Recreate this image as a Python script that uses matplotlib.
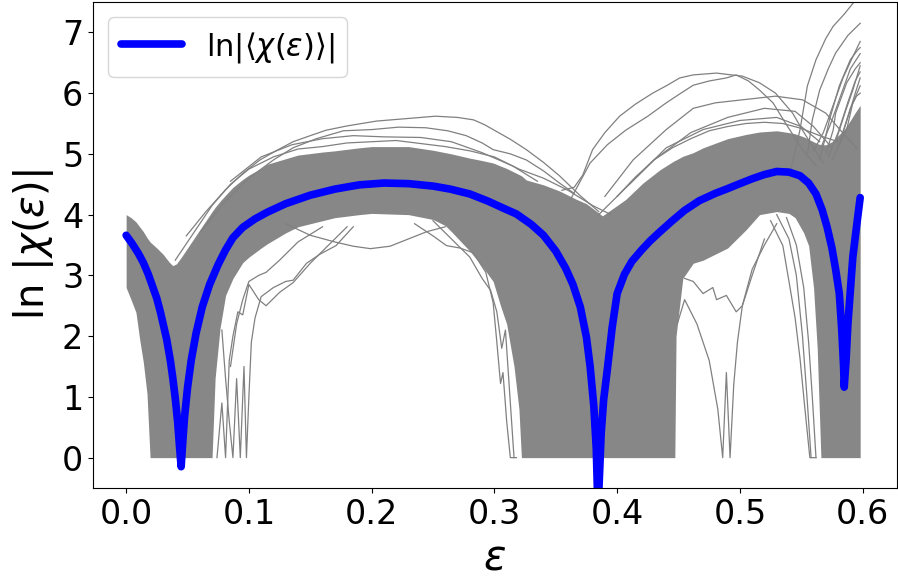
import numpy as np
import matplotlib
matplotlib.use("Agg")
import matplotlib.pyplot as plt

# mean curve ln|<chi(eps)>|
mean_x = [0.000, 0.005, 0.010, 0.014, 0.018, 0.021, 0.025, 0.028, 0.033, 0.036, 0.038, 0.040,
          0.042, 0.0435, 0.0448, 0.046, 0.0475, 0.050, 0.053, 0.057, 0.062, 0.068, 0.075, 0.081,
          0.087, 0.095, 0.105, 0.115, 0.130, 0.150, 0.170, 0.190, 0.210, 0.230, 0.250, 0.264,
          0.280, 0.295, 0.308, 0.318, 0.330, 0.340, 0.350, 0.358, 0.364, 0.370, 0.375, 0.378,
          0.381, 0.383, 0.384, 0.385, 0.387, 0.389, 0.392, 0.396, 0.400, 0.406, 0.412, 0.420,
          0.427, 0.435, 0.445, 0.455, 0.467, 0.480, 0.489, 0.500, 0.510, 0.520, 0.530, 0.540,
          0.549, 0.556, 0.562, 0.567, 0.571, 0.575, 0.578, 0.581, 0.583, 0.5845, 0.585, 0.5865,
          0.588, 0.590, 0.592, 0.595, 0.598]
mean_y = [3.66, 3.52, 3.36, 3.21, 3.02, 2.85, 2.62, 2.39, 1.95, 1.60, 1.31, 0.98,
          0.58, 0.18, -0.15, 0.22, 0.65, 1.15, 1.60, 2.05, 2.48, 2.85, 3.18, 3.42,
          3.62, 3.79, 3.93, 4.04, 4.18, 4.32, 4.42, 4.49, 4.52, 4.51, 4.47, 4.42,
          4.34, 4.22, 4.10, 4.01, 3.84, 3.66, 3.40, 3.12, 2.85, 2.48, 1.98, 1.50,
          0.85, 0.15, -0.60, -0.60, 0.40, 0.95, 1.45, 2.15, 2.70, 3.02, 3.23, 3.42,
          3.57, 3.72, 3.90, 4.07, 4.23, 4.35, 4.42, 4.51, 4.59, 4.66, 4.71, 4.70,
          4.64, 4.52, 4.34, 4.08, 3.80, 3.45, 3.10, 2.70, 2.10, 1.50, 1.16, 1.60,
          2.20, 2.75, 3.30, 3.80, 4.28]

# dense band of the individual realisations (upper / lower edge)
band_x = [0.000, 0.004, 0.008, 0.011, 0.014, 0.017, 0.0195, 0.025, 0.030, 0.035, 0.038, 0.041,
          0.045, 0.050, 0.055, 0.060, 0.065, 0.070, 0.0725, 0.0765, 0.081, 0.087, 0.095, 0.100,
          0.110, 0.115, 0.130, 0.140, 0.160, 0.170, 0.190, 0.200, 0.230, 0.250, 0.260, 0.265,
          0.280, 0.290, 0.299, 0.305, 0.310, 0.316, 0.320, 0.322, 0.326, 0.340, 0.353, 0.367,
          0.375, 0.388, 0.400, 0.407, 0.421, 0.435, 0.446, 0.447, 0.448, 0.4535, 0.462, 0.470,
          0.490, 0.505, 0.516, 0.530, 0.540, 0.545, 0.552, 0.556, 0.560, 0.563, 0.566, 0.570,
          0.575, 0.580, 0.585, 0.590, 0.594, 0.598]
band_hi = [4.00, 3.95, 3.88, 3.80, 3.72, 3.62, 3.55, 3.45, 3.35, 3.22, 3.16, 3.19,
           3.30, 3.45, 3.60, 3.75, 3.90, 4.05, 4.12, 4.22, 4.32, 4.45, 4.58, 4.65,
           4.76, 4.83, 4.92, 4.98, 5.03, 5.05, 5.10, 5.12, 5.12, 5.06, 5.02, 5.00,
           4.93, 4.89, 4.85, 4.80, 4.76, 4.70, 4.66, 4.64, 4.57, 4.49, 4.39, 4.25,
           4.18, 3.98, 4.15, 4.25, 4.52, 4.74, 4.88, 4.89, 4.90, 4.96, 5.02, 5.10,
           5.25, 5.32, 5.36, 5.38, 5.35, 5.33, 5.28, 5.24, 5.20, 5.17, 5.15, 5.15,
           5.20, 5.30, 5.40, 5.55, 5.68, 5.80]
band_lo = [2.80, 2.60, 2.39, 1.95, 1.57, 1.05, 0.00, 0.00, 0.00, 0.00, 0.00, 0.00,
           0.00, 0.00, 0.00, 0.00, 0.00, 0.00, 1.31, 2.13, 2.67, 2.95, 3.21, 3.30,
           3.45, 3.52, 3.70, 3.80, 3.90, 3.95, 4.00, 4.02, 4.00, 3.92, 3.82, 3.72,
           3.40, 3.15, 2.90, 2.50, 2.20, 1.50, 0.80, 0.00, 0.00, 0.00, 0.00, 0.00,
           0.00, 0.00, 0.00, 0.00, 0.00, 0.00, 0.00, 0.00, 2.00, 2.95, 3.20, 3.25,
           3.45, 3.75, 4.00, 4.05, 4.02, 3.95, 3.70, 3.49, 2.80, 1.80, 0.00, 0.00,
           0.00, 0.00, 0.00, 0.00, 0.00, 0.00]

# single realisations sticking out of the band (first hump)
hump1_x = [
    [0.049, 0.065, 0.081, 0.095, 0.109, 0.122, 0.136, 0.150, 0.163, 0.180, 0.204, 0.228,
     0.252, 0.270, 0.283, 0.292, 0.299, 0.313, 0.326, 0.340, 0.353, 0.370, 0.385],
    [0.060, 0.080, 0.100, 0.120, 0.136, 0.155, 0.177, 0.200, 0.222, 0.244, 0.262, 0.277,
     0.290, 0.299, 0.313, 0.326, 0.340, 0.353, 0.365],
    [0.085, 0.110, 0.135, 0.160, 0.185, 0.210, 0.240, 0.265, 0.290, 0.315, 0.335],
    [0.040, 0.055, 0.070, 0.085, 0.100, 0.120, 0.140, 0.160, 0.180, 0.200, 0.220, 0.240,
     0.260, 0.280, 0.300, 0.320, 0.340, 0.360, 0.380, 0.395],
]
hump1_y = [
    [3.65, 4.05, 4.41, 4.68, 4.90, 5.05, 5.20, 5.30, 5.39, 5.46, 5.54, 5.58,
     5.62, 5.60, 5.56, 5.48, 5.40, 5.24, 5.07, 4.86, 4.64, 4.31, 4.05],
    [3.70, 4.20, 4.60, 4.90, 5.10, 5.25, 5.38, 5.40, 5.44, 5.43, 5.38, 5.30,
     5.18, 5.07, 5.00, 4.90, 4.72, 4.52, 4.35],
    [4.55, 4.95, 5.15, 5.25, 5.30, 5.28, 5.27, 5.20, 5.02, 4.80, 4.55],
    [3.25, 3.70, 4.15, 4.50, 4.75, 4.95, 5.08, 5.12, 5.18, 5.20, 5.22, 5.17,
     5.12, 5.05, 4.95, 4.75, 4.60, 4.40, 4.15, 4.00],
]

# second hump
hump2_x = [
    [0.355, 0.365, 0.372, 0.380, 0.390, 0.402, 0.415, 0.429, 0.440, 0.451, 0.462, 0.481,
     0.489, 0.502, 0.516, 0.529, 0.543, 0.551, 0.560, 0.568],
    [0.362, 0.370, 0.378, 0.392, 0.407, 0.425, 0.440, 0.452, 0.462, 0.475, 0.489, 0.497,
     0.507, 0.516, 0.527, 0.537, 0.551, 0.562],
    [0.390, 0.413, 0.440, 0.462, 0.480, 0.502, 0.529, 0.551, 0.570, 0.584, 0.595],
    [0.400, 0.430, 0.460, 0.490, 0.520, 0.545, 0.560, 0.575],
    [0.410, 0.440, 0.470, 0.500, 0.530, 0.550, 0.565],
    [0.385, 0.400, 0.415, 0.430, 0.445, 0.460, 0.475, 0.490, 0.505, 0.520, 0.535, 0.550,
     0.565, 0.580],
]
hump2_y = [
    [4.40, 4.45, 4.65, 5.07, 5.35, 5.62, 5.82, 6.00, 6.12, 6.25, 6.30, 6.33,
     6.31, 6.28, 6.17, 6.00, 5.67, 5.39, 5.10, 4.85],
    [4.25, 4.55, 4.85, 5.15, 5.39, 5.62, 5.84, 6.00, 6.13, 6.20, 6.25, 6.30,
     6.20, 6.05, 5.84, 5.51, 5.07, 4.80],
    [4.30, 4.90, 5.40, 5.75, 5.84, 5.89, 5.95, 5.89, 5.67, 5.34, 5.10],
    [4.30, 4.90, 5.35, 5.60, 5.75, 5.70, 5.45, 5.10],
    [4.50, 5.10, 5.40, 5.55, 5.60, 5.45, 5.20],
    [4.00, 4.30, 4.62, 4.90, 5.10, 5.25, 5.38, 5.45, 5.50, 5.52, 5.50, 5.42,
     5.30, 5.20],
]

# steep rise at the right edge
edge_x = [
    [0.540, 0.549, 0.555, 0.562, 0.570, 0.576, 0.585, 0.595],
    [0.555, 0.559, 0.565, 0.572, 0.578, 0.588, 0.598],
    [0.565, 0.570, 0.573, 0.581, 0.590, 0.596, 0.598],
    [0.570, 0.576, 0.578, 0.587, 0.594, 0.598],
    [0.575, 0.587, 0.592, 0.598],
    [0.572, 0.580, 0.588, 0.594, 0.598],
    [0.580, 0.588, 0.594, 0.598],
    [0.560, 0.568, 0.576, 0.584, 0.592, 0.598],
    [0.566, 0.574, 0.582, 0.590, 0.598],
    [0.578, 0.586, 0.592, 0.598],
    [0.583, 0.590, 0.595, 0.598],
]
edge_y = [
    [4.60, 5.40, 6.12, 6.55, 6.90, 7.10, 7.30, 7.55],
    [5.00, 5.56, 6.05, 6.40, 6.66, 6.95, 7.15],
    [4.90, 5.30, 5.56, 6.12, 6.55, 6.71, 6.75],
    [5.00, 5.39, 5.67, 6.17, 6.40, 6.50],
    [4.90, 5.40, 5.84, 6.12],
    [4.95, 5.35, 5.85, 6.20, 6.35],
    [5.10, 5.60, 6.00, 6.25],
    [5.05, 5.35, 5.80, 6.25, 6.60, 6.85],
    [5.10, 5.50, 5.95, 6.40, 6.65],
    [5.20, 5.70, 6.05, 6.45],
    [5.30, 5.75, 5.95, 6.00],
]

# realisations dropping into the gaps under the humps
gap_x = [
    [0.078, 0.081, 0.084, 0.087, 0.090, 0.093, 0.096, 0.098, 0.100, 0.102, 0.105, 0.110,
     0.120, 0.130, 0.136, 0.147, 0.158, 0.171, 0.185],
    [0.074, 0.078, 0.081, 0.084, 0.087, 0.091, 0.095, 0.100, 0.108, 0.114, 0.125, 0.136,
     0.150, 0.165, 0.180],
    [0.085, 0.090, 0.095, 0.100, 0.108, 0.114, 0.125, 0.140, 0.160],
    [0.130, 0.150, 0.170, 0.185, 0.199, 0.215, 0.230, 0.245, 0.260],
    [0.235, 0.250, 0.261, 0.272, 0.283, 0.293, 0.299, 0.302, 0.305, 0.307, 0.310, 0.313, 0.318],
    [0.250, 0.265, 0.280, 0.290, 0.297, 0.302, 0.306, 0.309, 0.312, 0.316],
    [0.449, 0.455, 0.465, 0.475, 0.482, 0.486, 0.489, 0.492, 0.495, 0.498, 0.502, 0.510,
     0.520, 0.530],
    [0.455, 0.462, 0.470, 0.478, 0.481, 0.489, 0.497, 0.502, 0.510, 0.520],
    [0.525, 0.535, 0.540, 0.545, 0.549, 0.553, 0.557, 0.562],
    [0.530, 0.540, 0.546, 0.551, 0.555, 0.558],
    [0.538, 0.546, 0.552, 0.556, 0.559, 0.562],
]
gap_y = [
    [2.10, 1.30, 0.60, 0.00, 1.30, 0.00, 1.50, 0.00, 1.00, 1.90, 2.30, 2.65,
     2.80, 2.90, 2.92, 3.20, 3.35, 3.49, 3.80],
    [0.00, 0.90, 0.00, 1.60, 2.00, 2.40, 2.35, 2.85, 2.60, 2.50, 2.72, 2.88,
     3.20, 3.50, 3.80],
    [1.50, 2.20, 2.60, 2.90, 3.00, 3.05, 3.25, 3.55, 3.80],
    [3.85, 3.66, 3.55, 3.48, 3.44, 3.48, 3.60, 3.72, 3.80],
    [3.85, 3.65, 3.49, 3.45, 3.37, 3.05, 2.55, 1.90, 1.22, 1.40, 0.60, 0.00, 0.00],
    [3.90, 3.60, 3.30, 2.95, 2.75, 2.40, 1.80, 2.10, 1.20, 0.00],
    [2.20, 2.60, 2.20, 1.60, 0.80, 0.00, 1.40, 0.00, 1.20, 1.90, 2.50, 3.10,
     3.50, 3.85],
    [2.95, 2.90, 2.70, 2.80, 2.60, 2.67, 2.40, 2.50, 3.00, 3.60],
    [3.90, 3.49, 2.90, 2.30, 1.63, 0.80, 0.00, 0.00],
    [4.00, 3.60, 3.00, 2.00, 0.90, 0.00],
    [3.95, 3.50, 2.80, 1.90, 1.00, 0.00],
]

fig = plt.figure(figsize=(8.98, 5.80), dpi=100)
ax = fig.add_axes([93 / 898, 1 - 488 / 580, 804 / 898, 486 / 580])

ax.fill_between(band_x, band_lo, band_hi, color='#878787', lw=0)
for xs_group, ys_group in [(hump1_x, hump1_y), (hump2_x, hump2_y), (edge_x, edge_y), (gap_x, gap_y)]:
    for xs, ys in zip(xs_group, ys_group):
        ax.plot(xs, ys, color='gray', lw=0.9)

ax.plot(mean_x, mean_y, color='blue', lw=5.5, solid_capstyle='round', solid_joinstyle='round',
        label=r'$\ln|\langle\chi(\varepsilon)\rangle|$')

ax.set_xlim(-0.027, 0.628)
ax.set_ylim(-0.5, 7.5)
ax.set_xticks([0.0, 0.1, 0.2, 0.3, 0.4, 0.5, 0.6])
ax.set_yticks(range(8))
ax.tick_params(labelsize=24)
ax.set_xlabel(r'$\varepsilon$', fontsize=30)
ax.set_ylabel(r'$\ln\,|\chi(\varepsilon)|$', fontsize=29)
ax.legend(loc='upper left', fontsize=22)

fig.savefig('out.png', dpi=100)
